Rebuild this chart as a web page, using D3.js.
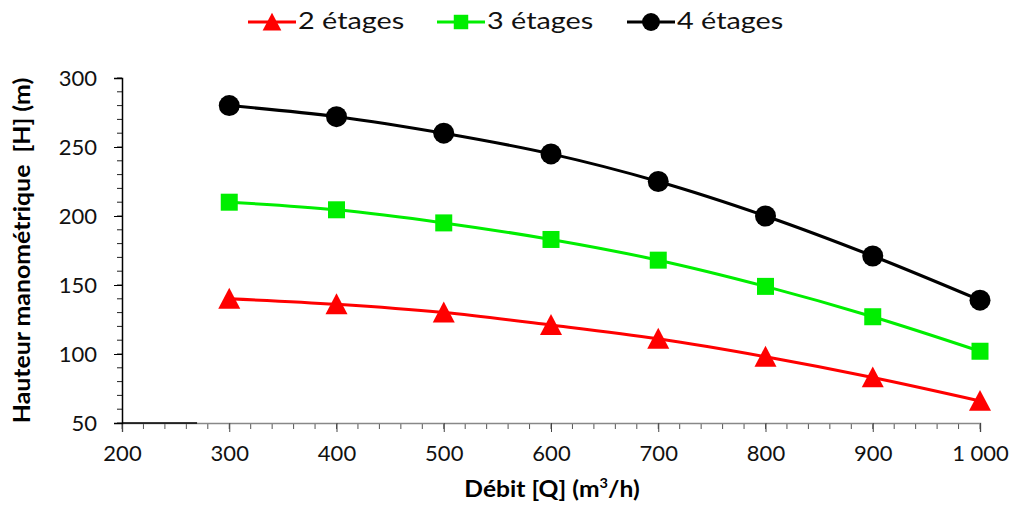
<!DOCTYPE html>
<html><head><meta charset="utf-8">
<script src="https://cdn.jsdelivr.net/npm/d3@7"></script>
<style>body{margin:0;background:#fff}svg{display:block}text{font-family:Lato,"Open Sans",sans-serif}</style>
</head><body><svg id="c" width="1016" height="513"></svg>
<script>
const debit = [300,400,500,600,700,800,900,1000];
const h2 = [140,136,130,121,111,98,83,66];
const h3 = [210,204.5,195,183,168,149,127,102];
const h4 = [280,272,260,245,225,200,171,139];
const seriesNames = ["2 étages","3 étages","4 étages"];
const xTicks = [200,300,400,500,600,700,800,900,1000];
const yTicks = [50,100,150,200,250,300];

const series = [
  {name:seriesNames[0], vals:h2, color:"#ff0000", sym:"tri"},
  {name:seriesNames[1], vals:h3, color:"#00ee00", sym:"sq"},
  {name:seriesNames[2], vals:h4, color:"#000000", sym:"circ"}
];

const svg = d3.select("#c");
const x = d3.scaleLinear().domain([200,1000]).range([122,980]);
const y = d3.scaleLinear().domain([50,300]).range([423,78]);
const fmt = v => v>=1000 ? d3.format(",")(v).replace(",", " ") : String(v);

// minor ticks
const xMinor = d3.range(200,1001,20);
const yMinor = d3.range(50,301,10);
svg.append("g").selectAll("line").data(xMinor).join("line")
  .attr("x1",d=>x(d)).attr("x2",d=>x(d)).attr("y1",y(50)).attr("y2",y(50)+6)
  .attr("stroke","#555").attr("stroke-width",1);
svg.append("g").selectAll("line").data(yMinor).join("line")
  .attr("x1",x(200)-5).attr("x2",x(200)).attr("y1",d=>y(d)).attr("y2",d=>y(d))
  .attr("stroke","#222").attr("stroke-width",1);

// X axis
const gx = svg.append("g").attr("transform",`translate(0,${y(50)})`)
  .call(d3.axisBottom(x).tickValues(xTicks).tickFormat(fmt).tickSize(9).tickPadding(13));
gx.select(".domain").attr("stroke","#888").attr("stroke-width",1.5);
gx.selectAll(".tick line").attr("stroke","#444");
gx.selectAll(".tick text").attr("font-size",22).attr("fill","#111").attr("xml:space","preserve");
svg.append("line").attr("x1",x(200)).attr("x2",x(270)).attr("y1",y(50)).attr("y2",y(50))
  .attr("stroke","#000").attr("stroke-width",1.5);

// Y axis
const gy = svg.append("g").attr("transform",`translate(${x(200)},0)`)
  .call(d3.axisLeft(y).tickValues(yTicks).tickSize(8).tickPadding(17));
gy.select(".domain").attr("stroke","#000").attr("stroke-width",1.5);
gy.selectAll(".tick line").attr("stroke","#000");
gy.selectAll(".tick text").attr("font-size",22).attr("fill","#111");

// Axis titles
svg.append("text").attr("transform",`translate(30,${(y(50)+y(300))/2}) rotate(-90) scale(1.13,1)`)
  .attr("text-anchor","middle").attr("font-size",22).attr("font-weight","bold")
  .attr("xml:space","preserve")
  .text("Hauteur manométrique  [H] (m)");
const xt = svg.append("text").attr("transform","translate(552,497) scale(1.12,1)").attr("text-anchor","middle")
  .attr("font-size",22).attr("font-weight","bold");
xt.append("tspan").text("Débit [Q] (m");
xt.append("tspan").attr("font-size",13).attr("dy",-9).text("3");
xt.append("tspan").attr("dy",9).text("/h)");

// symbols
function drawSym(g, sym, color, cx, cy, scale){
  if(sym==="tri"){
    const s=11*scale;
    g.append("path").attr("d",`M${cx},${cy-s}L${cx+s},${cy+s*0.9}L${cx-s},${cy+s*0.9}Z`).attr("fill",color);
  } else if(sym==="sq"){
    const s=8.5*scale;
    g.append("rect").attr("x",cx-s).attr("y",cy-s).attr("width",2*s).attr("height",2*s).attr("fill",color);
  } else {
    g.append("circle").attr("cx",cx).attr("cy",cy).attr("r",10.5*scale).attr("fill",color);
  }
}

const line = d3.line().x(d=>x(d[0])).y(d=>y(d[1])).curve(d3.curveCatmullRom.alpha(0.5));
series.forEach(s=>{
  const pts = debit.map((q,i)=>[q,s.vals[i]]);
  const g = svg.append("g");
  g.append("path").attr("d",line(pts)).attr("fill","none").attr("stroke",s.color).attr("stroke-width",3);
  pts.forEach(p=>drawSym(g,s.sym,s.color,x(p[0]),y(p[1]),1));
});

// Legend
const legX = [248,437,627];
series.forEach((s,i)=>{
  const g = svg.append("g");
  const x0 = legX[i], ly = 22;
  g.append("line").attr("x1",x0).attr("x2",x0+48).attr("y1",ly).attr("y2",ly).attr("stroke",s.color).attr("stroke-width",3);
  drawSym(g,s.sym,s.color,x0+24,ly,0.85);
  g.append("text").attr("transform",`translate(${x0+50},${ly+7}) scale(1.2,1)`).attr("font-size",24)
    .attr("fill","#111").text(s.name);
});
</script></body></html>
